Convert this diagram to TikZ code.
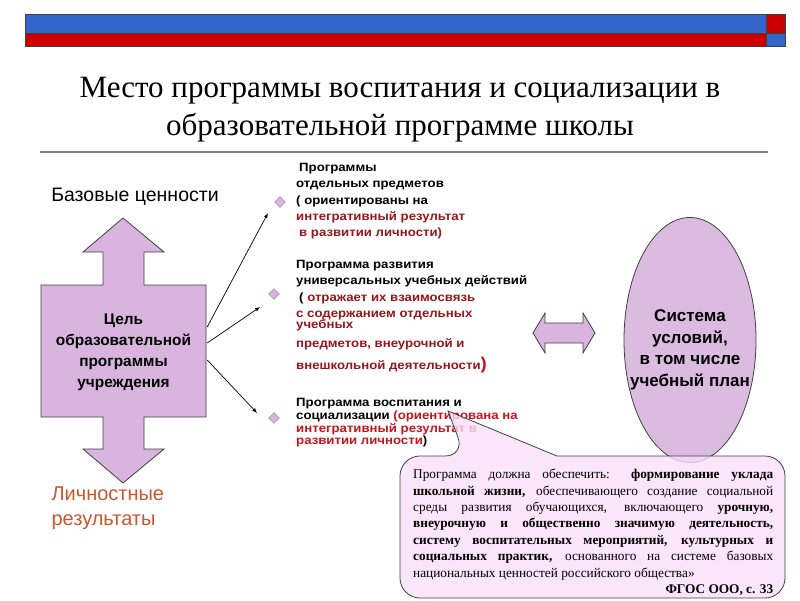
\documentclass[tikz,border=0pt]{standalone}
\usepackage{fontspec}
\setmainfont{Liberation Serif}
\setsansfont{Liberation Sans}
\newfontfamily\progfont[FakeStretch=1.1]{Liberation Sans}
\usetikzlibrary{shapes.geometric,arrows,positioning,calc}
\definecolor{barblue}{RGB}{51,102,204}
\definecolor{barred}{RGB}{204,0,0}
\definecolor{lilac}{RGB}{216,180,222}
\definecolor{pinkbox}{RGB}{249,222,249}
\definecolor{darkred}{RGB}{150,22,30}
\definecolor{brightred}{RGB}{200,20,30}
\definecolor{rust}{RGB}{205,85,45}
\definecolor{edge}{RGB}{64,64,64}
\setlength{\parindent}{0pt}

\begin{document}
\begin{tikzpicture}[x=1pt,y=-1pt,
    shapeline/.style={draw=edge, line width=0.8pt, fill=lilac},
    prog/.style={anchor=north west, align=left, inner sep=0pt,
      font=\progfont\bfseries\fontsize{12}{16.3}\selectfont},
    marker/.style={diamond, draw=gray, fill=lilac, minimum width=11pt,
      minimum height=11pt, inner sep=0pt},
    link/.style={->, >=latex, line width=0.7pt}]
    \useasboundingbox (0,0) rectangle (800,600);

    % top bars
    \draw[edge, fill=barblue] (25,14) rectangle (766,33);
    \draw[edge, fill=barred] (25,33) rectangle (766,46);
    \draw[edge, fill=barred] (766,14) rectangle (785,33);
    \draw[edge, fill=barblue] (766,33) rectangle (785,46);

    \node[align=center, font=\fontsize{31}{38}\selectfont] (title) at (400,110)
      {Место программы воспитания и социализации в\\образовательной программе школы};
    \draw[gray, line width=1.2pt] (40,152) -- (768,152);

    % left up-down arrow
    \draw[shapeline] (123,218) -- (164,252) -- (144,252) -- (144,285) -- (206,285)
      -- (206,417) -- (144,417) -- (144,449) -- (164,449) -- (123,483) -- (83,449)
      -- (103,449) -- (103,417) -- (41,417) -- (41,285) -- (103,285) -- (103,252)
      -- (83,252) -- cycle;
    \node[minimum width=165pt, minimum height=132pt, align=center,
      font=\sffamily\bfseries\fontsize{15.4}{21}\selectfont] (goal) at (123.5,352)
      {Цель\\образовательной\\программы\\учреждения};
    \node[font=\sffamily\fontsize{19.5}{22}\selectfont] (base) at (135,197) {Базовые ценности};
    \node[anchor=west, align=left, text=rust, font=\sffamily\fontsize{20}{25}\selectfont]
      (result) at (48,508) {Личностные\\результаты};

    % programmes
    \node[marker] (d1) at (280,202) {};
    \node[marker] (d2) at (274,294) {};
    \node[marker] (d3) at (274,418) {};
    \coordinate (t1) at (268,213);
    \coordinate (t2) at (260,307);
    \coordinate (t3) at (257,413);
    \draw[link] ($(goal.east)+(1,-25)$) -- (t1);
    \draw[link] ($(goal.east)+(1,-9)$) -- (t2);
    \draw[link] ($(goal.east)+(1,8)$) -- (t3);

    \node[prog] (p1) at (296,163) {\hspace{3pt}Программы\\отдельных предметов\\( ориентированы на\\
      \textcolor{darkred}{интегративный результат}\\
      \textcolor{darkred}{\hspace{3pt}в развитии личности)}};
    \node[prog] (p2) at (296,260) {Программа развития\\универсальных учебных действий\\
      \hspace{3pt}( \textcolor{darkred}{отражает их взаимосвязь}\\
      \textcolor{darkred}{с содержанием отдельных}\\[-5pt]
      \textcolor{darkred}{учебных}\\[3pt]
      \textcolor{darkred}{предметов, внеурочной и}\\[5pt]
      \textcolor{darkred}{внешкольной деятельности}{\color{brightred}\fontsize{17}{17}\selectfont)}};
    \node[prog, font=\progfont\bfseries\fontsize{12}{12.8}\selectfont] (p3) at (296,398)
      {Программа воспитания и\\социализации \textcolor{brightred}{(ориентирована на}\\
      \textcolor{brightred}{интегративный результат в}\\
      \textcolor{brightred}{развитии личности})};

    % conditions
    \draw[shapeline] (533,333) -- (545,313) -- (545,323) -- (583,323) -- (583,313)
      -- (595,333) -- (583,353) -- (583,343) -- (545,343) -- (545,353) -- cycle;
    \node[ellipse, shapeline, fill opacity=0.9, minimum width=132pt, minimum height=245pt,
      inner sep=0pt] (sys) at (690,340) {};
    \node[align=center, font=\sffamily\bfseries\fontsize{17}{21.5}\selectfont] (systxt)
      at (690,350) {Система\\условий,\\в том числе\\учебный план};

    % callout
    \draw[draw=edge, line width=0.8pt, fill=pinkbox, fill opacity=0.8]
      (557,456) [rounded corners=20pt] -- (785,456) -- (785,598) -- (400,598)
      -- (400,456) -- (465,456) [sharp corners] -- (448,411) -- cycle;
    \node[anchor=north west, inner sep=0pt, text width=360pt, align=justify,
      font=\fontsize{13.3}{16.4}\selectfont] (quote) at (413,469)
      {Программа должна обеспечить: \textbf{формирование уклада}\linebreak
      \textbf{школьной жизни,} обеспечивающего создание социальной\linebreak
      среды развития обучающихся, включающего \textbf{урочную,}\linebreak
      \textbf{внеурочную и общественно значимую деятельность,}\linebreak
      \textbf{систему воспитательных мероприятий, культурных и}\linebreak
      \textbf{социальных практик,} основанного на системе базовых\linebreak
      национальных ценностей российского общества»\par
      \hfill\textbf{ФГОС ООО, с. 33}};
\end{tikzpicture}
\end{document}
